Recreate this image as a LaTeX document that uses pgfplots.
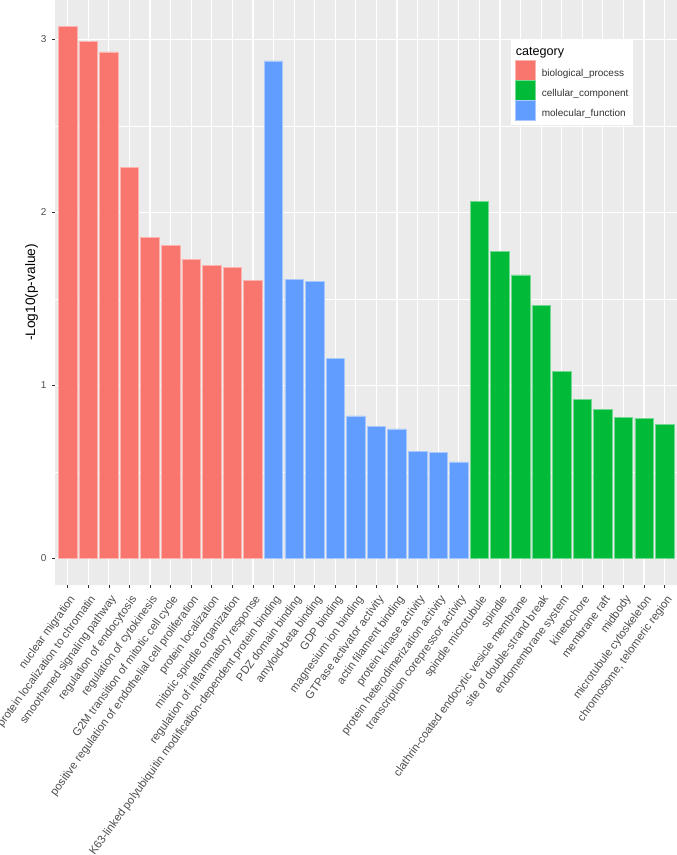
\documentclass[border=0pt]{standalone}
\usepackage{fontspec}
\setmainfont{Liberation Sans}
\usepackage{pgfplots}
\pgfplotsset{compat=1.18}

\definecolor{panelbg}{HTML}{EBEBEB}
\definecolor{txtgray}{HTML}{4D4D4D}
\definecolor{tickgray}{HTML}{333333}
\definecolor{bpred}{HTML}{F8766D}
\definecolor{ccgreen}{HTML}{00BA38}
\definecolor{mfblue}{HTML}{619CFF}

\begin{document}
\begin{tikzpicture}
\path[use as bounding box] (0,0) rectangle (677pt,855pt);
\begin{axis}[
  at={(55.3pt,270pt)}, anchor=south west,
  scale only axis,
  width=621.7pt, height=585pt,
  xmin=0.4, xmax=30.6,
  ymin=-0.154, ymax=3.228,
  axis background/.style={fill=panelbg},
  axis line style={draw=none},
  tick pos=left,
  tick align=outside,
  major tick length=3.1pt,
  tick style={tickgray, line width=0.6pt},
  minor tick style={draw=none},
  xtick={1,...,30},
  ytick={0,1,2,3},
  minor ytick={0.5,1.5,2.5},
  xmajorgrids, ymajorgrids, yminorgrids,
  major grid style={white, line width=1.2pt},
  minor grid style={white, line width=0.6pt},
  /pgf/number format/assume math mode=true,
  yticklabel style={font=\fontsize{10}{12}\selectfont, text=txtgray,
    anchor=east, inner sep=0pt, xshift=-5.6pt},
  xticklabel style={font=\fontsize{11.3}{13}\selectfont, text=txtgray,
    inner sep=0pt, xshift=1pt, yshift=-6pt, rotate=54, anchor=north east},
  xticklabels={
    nuclear migration,
    protein localization to chromatin,
    smoothened signaling pathway,
    regulation of endocytosis,
    regulation of cytokinesis,
    G2M transition of mitotic cell cycle,
    positive regulation of endothelial cell proliferation,
    protein localization,
    mitotic spindle organization,
    regulation of inflammatory response,
    K63-linked polyubiquitin modification-dependent protein binding,
    PDZ domain binding,
    amyloid-beta binding,
    GDP binding,
    magnesium ion binding,
    GTPase activator activity,
    actin filament binding,
    protein kinase activity,
    protein heterodimerization activity,
    transcription corepressor activity,
    spindle microtubule,
    spindle,
    clathrin-coated endocytic vesicle membrane,
    site of double-strand break,
    endomembrane system,
    kinetochore,
    membrane raft,
    midbody,
    microtubule cytoskeleton,
    {chromosome, telomeric region}},
  ylabel={-Log10(p-value)},
  every axis y label/.style={at={(rel axis cs:0,0.5)}, xshift=-23.8pt,
    rotate=90, anchor=center, font=\fontsize{13.7}{16}\selectfont},
  legend style={at={(rel axis cs:0.732,0.9316)}, anchor=north west,
    draw=none, fill=white, inner xsep=4.6pt, inner ysep=4pt,
    row sep=0pt, column sep=6.3pt,
    font=\fontsize{10}{12}\selectfont, text=black!80,
    nodes={inner sep=0pt}},
  legend cell align=left,
  legend image code/.code={\draw[#1] (0pt,-6.5pt) rectangle (19.7pt,13.2pt);},
]
\addlegendimage{empty legend}
\addlegendentry[font=\fontsize{12.6}{14}\selectfont, text=black, inner ysep=3pt]{\hspace*{-26pt}category}

% biological_process
\addplot[ybar, bar width=0.9, bar shift=0pt, fill=bpred, draw=bpred!55!white, line width=0.6pt]
  coordinates {(1,3.075) (2,2.990) (3,2.928) (4,2.258) (5,1.855)
               (6,1.811) (7,1.728) (8,1.694) (9,1.682) (10,1.609)};
\addlegendentry{biological\_process}

% cellular_component
\addplot[ybar, bar width=0.9, bar shift=0pt, fill=ccgreen, draw=ccgreen!55!white, line width=0.6pt]
  coordinates {(21,2.063) (22,1.776) (23,1.639) (24,1.462) (25,1.081)
               (26,0.917) (27,0.863) (28,0.815) (29,0.809) (30,0.775)};
\addlegendentry{cellular\_component}

% molecular_function
\addplot[ybar, bar width=0.9, bar shift=0pt, fill=mfblue, draw=mfblue!55!white, line width=0.6pt]
  coordinates {(11,2.876) (12,1.613) (13,1.599) (14,1.157) (15,0.824)
               (16,0.763) (17,0.749) (18,0.618) (19,0.613) (20,0.558)};
\addlegendentry{molecular\_function}
\end{axis}
\end{tikzpicture}
\end{document}
